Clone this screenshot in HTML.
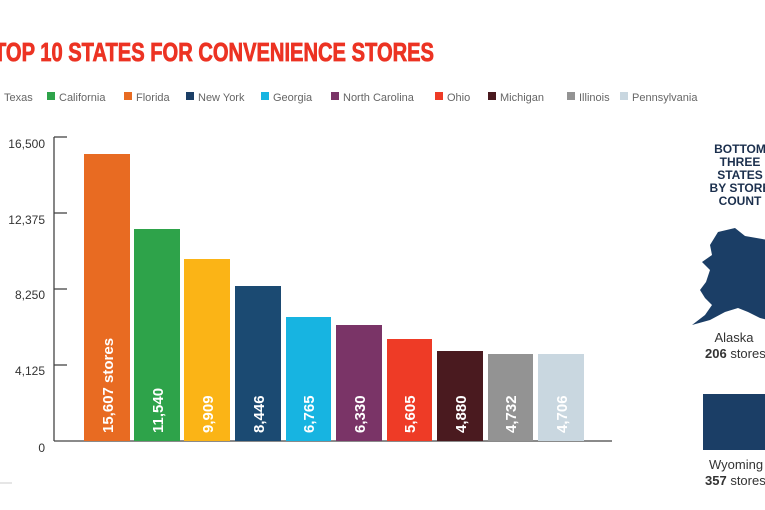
<!DOCTYPE html><html><head><style>body{margin:0;background:#fff;}svg{display:block}</style></head><body>
<svg width="765" height="510" xmlns="http://www.w3.org/2000/svg" font-family="Liberation Sans, sans-serif">
<text x="-6" y="61" font-size="26" font-weight="bold" fill="#ec3323" stroke="#ec3323" stroke-width="0.8" textLength="440" lengthAdjust="spacingAndGlyphs">TOP 10 STATES FOR CONVENIENCE STORES</text>
<g font-size="11" fill="#666">
<text x="4" y="101">Texas</text>
<rect x="47" y="92" width="8" height="8" fill="#2ea34a"/><text x="59" y="101">California</text>
<rect x="124" y="92" width="8" height="8" fill="#e86b22"/><text x="136" y="101">Florida</text>
<rect x="186" y="92" width="8" height="8" fill="#1b3e66"/><text x="198" y="101">New York</text>
<rect x="261" y="92" width="8" height="8" fill="#17b4e1"/><text x="273" y="101">Georgia</text>
<rect x="331" y="92" width="8" height="8" fill="#7a3467"/><text x="343" y="101">North Carolina</text>
<rect x="435" y="92" width="8" height="8" fill="#ee3b26"/><text x="447" y="101">Ohio</text>
<rect x="488" y="92" width="8" height="8" fill="#4a1a1f"/><text x="500" y="101">Michigan</text>
<rect x="567" y="92" width="8" height="8" fill="#939393"/><text x="579" y="101">Illinois</text>
<rect x="620" y="92" width="8" height="8" fill="#c9d7e0"/><text x="632" y="101">Pennsylvania</text>
</g>
<g stroke="#444" stroke-width="1.3">
<line x1="54" y1="137" x2="54" y2="441"/><line x1="54" y1="441" x2="612" y2="441"/>
<line x1="54" y1="137" x2="67" y2="137"/><line x1="54" y1="213" x2="67" y2="213"/><line x1="54" y1="289" x2="67" y2="289"/><line x1="54" y1="365" x2="67" y2="365"/>
</g>
<g font-size="12" fill="#333" text-anchor="end">
<text x="45" y="148">16,500</text><text x="45" y="224">12,375</text><text x="45" y="299">8,250</text><text x="45" y="375">4,125</text><text x="45" y="452">0</text>
</g>
<g>
<rect x="84" y="154" width="46" height="287" fill="#e86b22"/>
<rect x="134" y="229" width="46" height="212" fill="#2ea34a"/>
<rect x="184" y="259" width="46" height="182" fill="#fbb416"/>
<rect x="235" y="286" width="46" height="155" fill="#1b4a72"/>
<rect x="286" y="317" width="45" height="124" fill="#17b4e1"/>
<rect x="336" y="325" width="46" height="116" fill="#7a3467"/>
<rect x="387" y="339" width="45" height="102" fill="#ee3b26"/>
<rect x="437" y="351" width="46" height="90" fill="#4a1a1f"/>
<rect x="488" y="354" width="45" height="87" fill="#939393"/>
<rect x="538" y="354" width="46" height="87" fill="#c9d7e0"/>
</g>
<g font-size="15" font-weight="bold" fill="#fff">
<text transform="translate(113,433) rotate(-90)">15,607 stores</text>
<text transform="translate(163,433) rotate(-90)">11,540</text>
<text transform="translate(213,433) rotate(-90)">9,909</text>
<text transform="translate(264,433) rotate(-90)">8,446</text>
<text transform="translate(314,433) rotate(-90)">6,765</text>
<text transform="translate(365,433) rotate(-90)">6,330</text>
<text transform="translate(415,433) rotate(-90)">5,605</text>
<text transform="translate(466,433) rotate(-90)">4,880</text>
<text transform="translate(516,433) rotate(-90)">4,732</text>
<text transform="translate(567,433) rotate(-90)">4,706</text>
</g>
<g font-size="12" font-weight="bold" fill="#1b2f4d" text-anchor="middle">
<text x="740" y="153">BOTTOM</text><text x="740" y="166">THREE</text><text x="740" y="179">STATES</text><text x="740" y="192">BY STORE</text><text x="740" y="205">COUNT</text>
</g>
<path d="M718,232 L735,228 L745,236 L768,240 L768,320 L760,318 L748,312 L738,308 L725,312 L710,320 L692,325 L705,315 L712,305 L705,298 L700,290 L706,282 L710,270 L702,262 L712,255 L710,245 Z" fill="#1b3e66"/>
<text x="734" y="342" font-size="13" fill="#333" text-anchor="middle">Alaska</text>
<text x="705" y="358" font-size="13" fill="#333"><tspan font-weight="bold">206</tspan> stores</text>
<rect x="703" y="394" width="70" height="56" fill="#1b3e66"/>
<text x="709" y="469" font-size="13" fill="#333">Wyoming</text>
<text x="705" y="485" font-size="13" fill="#333"><tspan font-weight="bold">357</tspan> stores</text>
<line x1="0" y1="483" x2="12" y2="483" stroke="#ccc"/>
</svg>
</body></html>
